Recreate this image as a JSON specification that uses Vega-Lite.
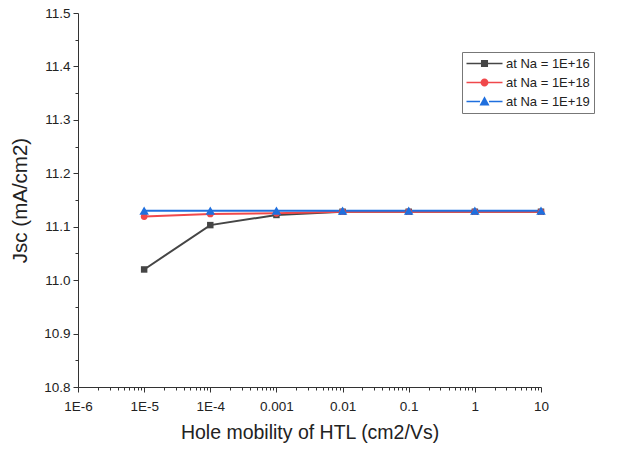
{
  "$schema": "https://vega.github.io/schema/vega-lite/v6.json",
  "autosize": {"type": "none"},
  "width": 463,
  "height": 374,
  "padding": {"left": 78, "top": 13, "right": 78, "bottom": 66},
  "background": "white",
  "config": {
    "view": {"stroke": null},
    "font": "Liberation Sans",
    "axis": {"grid": false, "domainColor": "#333", "tickColor": "#333", "labelColor": "#222", "titleColor": "#222", "labelFont": "Liberation Sans", "titleFont": "Liberation Sans", "labelFontSize": 13.5, "titleFontWeight": "normal"}
  },
  "data": {"values": [
    {"mu": 0.00001, "jsc": 11.02, "series": "at Na = 1E+16"},
    {"mu": 0.0001, "jsc": 11.103, "series": "at Na = 1E+16"},
    {"mu": 0.001, "jsc": 11.122, "series": "at Na = 1E+16"},
    {"mu": 0.01, "jsc": 11.128, "series": "at Na = 1E+16"},
    {"mu": 0.1, "jsc": 11.128, "series": "at Na = 1E+16"},
    {"mu": 1, "jsc": 11.128, "series": "at Na = 1E+16"},
    {"mu": 10, "jsc": 11.128, "series": "at Na = 1E+16"},
    {"mu": 0.00001, "jsc": 11.119, "series": "at Na = 1E+18"},
    {"mu": 0.0001, "jsc": 11.124, "series": "at Na = 1E+18"},
    {"mu": 0.001, "jsc": 11.125, "series": "at Na = 1E+18"},
    {"mu": 0.01, "jsc": 11.128, "series": "at Na = 1E+18"},
    {"mu": 0.1, "jsc": 11.128, "series": "at Na = 1E+18"},
    {"mu": 1, "jsc": 11.128, "series": "at Na = 1E+18"},
    {"mu": 10, "jsc": 11.128, "series": "at Na = 1E+18"},
    {"mu": 0.00001, "jsc": 11.13, "series": "at Na = 1E+19"},
    {"mu": 0.0001, "jsc": 11.13, "series": "at Na = 1E+19"},
    {"mu": 0.001, "jsc": 11.13, "series": "at Na = 1E+19"},
    {"mu": 0.01, "jsc": 11.13, "series": "at Na = 1E+19"},
    {"mu": 0.1, "jsc": 11.13, "series": "at Na = 1E+19"},
    {"mu": 1, "jsc": 11.13, "series": "at Na = 1E+19"},
    {"mu": 10, "jsc": 11.13, "series": "at Na = 1E+19"}
  ]},
  "encoding": {
    "x": {
      "field": "mu", "type": "quantitative",
      "scale": {"type": "log", "domain": [0.000001, 10], "nice": false},
      "axis": {
        "title": "Hole mobility of HTL (cm2/Vs)",
        "titleFontSize": 19.5,
        "titlePadding": 11,
        "values": [0.000001,0.000002,0.000003,0.000004,0.000005,0.000006,0.000007,0.000008,0.000009,
                   0.00001,0.00002,0.00003,0.00004,0.00005,0.00006,0.00007,0.00008,0.00009,
                   0.0001,0.0002,0.0003,0.0004,0.0005,0.0006,0.0007,0.0008,0.0009,
                   0.001,0.002,0.003,0.004,0.005,0.006,0.007,0.008,0.009,
                   0.01,0.02,0.03,0.04,0.05,0.06,0.07,0.08,0.09,
                   0.1,0.2,0.3,0.4,0.5,0.6,0.7,0.8,0.9,
                   1,2,3,4,5,6,7,8,9,10],
        "labelExpr": "abs(round(log(datum.value)/LN10) - log(datum.value)/LN10) < 0.000001 ? (datum.value < 0.0009 ? '1E' + round(log(datum.value)/LN10) : toString(datum.value)) : ''",
        "tickSize": {"condition": {"test": "abs(round(log(datum.value)/LN10) - log(datum.value)/LN10) < 0.000001", "value": 5}, "value": 3},
        "labelPadding": 7,
        "labelOverlap": false,
        "labelFlush": false
      }
    },
    "y": {
      "field": "jsc", "type": "quantitative",
      "scale": {"domain": [10.8, 11.5], "nice": false, "zero": false},
      "axis": {
        "title": "Jsc (mA/cm2)",
        "titleFontSize": 20.5,
        "titlePadding": 13,
        "values": [10.8,10.85,10.9,10.95,11.0,11.05,11.1,11.15,11.2,11.25,11.3,11.35,11.4,11.45,11.5],
        "labelExpr": "abs(datum.value*10 - round(datum.value*10)) < 0.001 ? format(datum.value, '.1f') : ''",
        "tickSize": {"condition": {"test": "abs(datum.value*10 - round(datum.value*10)) < 0.001", "value": 5}, "value": 3},
        "labelPadding": 3,
        "labelOverlap": false,
        "labelFlush": false
      }
    }
  },
  "layer": [
    {
      "transform": [{"filter": "datum.series === 'at Na = 1E+16'"}],
      "mark": {"type": "line", "strokeWidth": 2, "color": "#454545"},
      "encoding": {}
    },
    {
      "transform": [{"filter": "datum.series === 'at Na = 1E+18'"}],
      "mark": {"type": "line", "strokeWidth": 2, "color": "#f0484b"},
      "encoding": {}
    },
    {
      "transform": [{"filter": "datum.series === 'at Na = 1E+19'"}],
      "mark": {"type": "line", "strokeWidth": 2, "color": "#1f6fde"},
      "encoding": {}
    },
    {
      "transform": [{"filter": "datum.series === 'at Na = 1E+16'"}],
      "mark": {"type": "point", "filled": true, "opacity": 1, "shape": "square", "size": 42, "color": "#454545"},
      "encoding": {}
    },
    {
      "transform": [{"filter": "datum.series === 'at Na = 1E+18'"}],
      "mark": {"type": "point", "filled": true, "opacity": 1, "shape": "circle", "size": 45, "color": "#f0484b"},
      "encoding": {}
    },
    {
      "transform": [{"filter": "datum.series === 'at Na = 1E+19'"}],
      "mark": {"type": "point", "filled": true, "opacity": 1, "shape": "triangle-up", "size": 90, "color": "#1f6fde"},
      "encoding": {}
    },
    {
      "mark": {"type": "point", "filled": true, "opacity": 0},
      "encoding": {
        "fill": {"field": "series", "type": "nominal",
          "scale": {"domain": ["at Na = 1E+16", "at Na = 1E+18", "at Na = 1E+19"], "range": ["#454545", "#f0484b", "#1f6fde"]},
          "legend": {"title": null, "orient": "none", "legendX": 384, "legendY": 39,
            "strokeColor": "#777", "padding": 4, "labelFontSize": 13, "labelColor": "#222", "labelFont": "Liberation Sans",
            "symbolSize": 225, "symbolOpacity": 1, "symbolStrokeWidth": 0, "rowPadding": 4, "symbolOffset": 11, "labelOffset": 14}},
        "shape": {"field": "series", "type": "nominal",
          "legend": {"title": null, "orient": "none", "legendX": 384, "legendY": 39,
            "strokeColor": "#777", "padding": 4, "labelFontSize": 13, "labelColor": "#222", "labelFont": "Liberation Sans",
            "symbolSize": 225, "symbolOpacity": 1, "symbolStrokeWidth": 0, "rowPadding": 4, "symbolOffset": 11, "labelOffset": 14},
          "scale": {"domain": ["at Na = 1E+16", "at Na = 1E+18", "at Na = 1E+19"],
            "range": [
              "M-2.4,-0.1H-0.47V-0.47H0.47V-0.1H2.4V0.1H0.47V0.47H-0.47V0.1H-2.4Z",
              "M-2.4,-0.1H-0.5V0.1H-2.4Z M0.5,-0.1H2.4V0.1H0.5Z M0.53,0A0.53,0.53 0 1,1 -0.53,0A0.53,0.53 0 1,1 0.53,0Z",
              "M-2.4,-0.1H-0.6V0.1H-2.4Z M0.6,-0.1H2.4V0.1H0.6Z M0,-0.7L0.67,0.53H-0.67Z"
            ]}}
      }
    }
  ]
}
